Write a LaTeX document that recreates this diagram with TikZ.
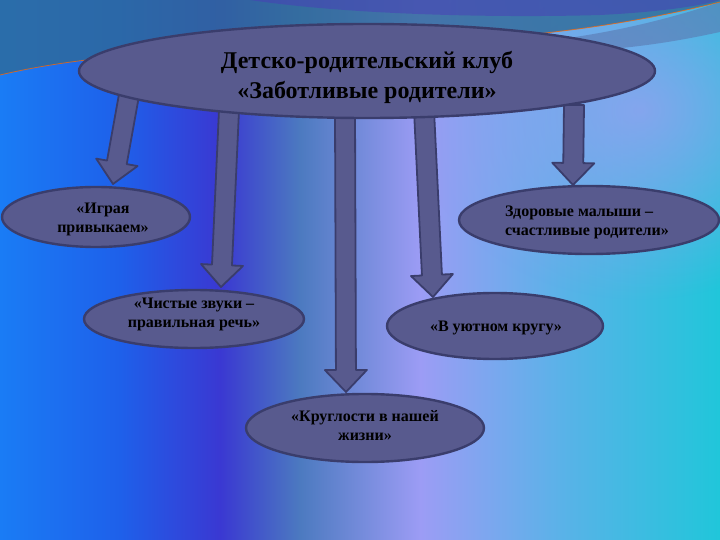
\documentclass[tikz,border=0pt]{standalone}
\usepackage{fontspec}
\setmainfont{Liberation Serif}
\usetikzlibrary{shapes.geometric,calc,fadings}
\definecolor{boxfill}{HTML}{585A8E}
\definecolor{boxline}{HTML}{3A3D6C}
\definecolor{bgA}{HTML}{1A7CF5}
\definecolor{bgB}{HTML}{1E60EA}
\definecolor{bgC}{HTML}{3A38D2}
\definecolor{bgD}{HTML}{4C7AC0}
\definecolor{bgE}{HTML}{9C9CF5}
\definecolor{bgF}{HTML}{5AB2E8}
\definecolor{bgG}{HTML}{20C6DA}
\definecolor{topcol}{HTML}{2F6A98}
\definecolor{swoosh}{HTML}{4A3CB8}
\definecolor{lav}{HTML}{9C9EF2}
\definecolor{grayband}{HTML}{5A78B0}
\tikzfading[name=radfade, inner color=transparent!0, outer color=transparent!100]
\tikzset{
  box/.style={ellipse, draw=boxline, line width=2.4bp, fill=boxfill, inner sep=0pt},
  blockarr/.style={draw=boxline, line width=1.8bp, fill=boxfill, line join=round},
  lbl/.style={font=\bfseries\fontsize{16bp}{19bp}\selectfont, text=black, align=center, inner sep=0pt},
  mainlbl/.style={font=\bfseries\fontsize{24bp}{30bp}\selectfont, text=black, align=center, inner sep=0pt}
}
\newcommand{\blkarrow}[2]{%
  \path (#1) coordinate (tmpA) (#2) coordinate (tmpB);
  \path ($(tmpB)!22bp!(tmpA)$) coordinate (tmpH);
  \filldraw[blockarr] ($(tmpA)!10bp!90:(tmpB)$) -- ($(tmpH)!10bp!90:(tmpB)$) -- ($(tmpH)!21bp!90:(tmpB)$) -- (tmpB) -- ($(tmpH)!21bp!-90:(tmpB)$) -- ($(tmpH)!10bp!-90:(tmpB)$) -- ($(tmpA)!10bp!-90:(tmpB)$) -- cycle;}
\begin{document}
\begin{tikzpicture}[x=1bp,y=-1bp]
\useasboundingbox (0,0) rectangle (720,540);
% background
\shade[left color=bgA, right color=bgB] (0,0) rectangle (120.5,540);
\shade[left color=bgB, right color=bgC] (120,0) rectangle (220.5,540);
\shade[left color=bgC, right color=bgD] (220,0) rectangle (300.5,540);
\shade[left color=bgD, right color=bgE] (300,0) rectangle (420.5,540);
\shade[left color=bgE, right color=bgF] (420,0) rectangle (560.5,540);
\shade[left color=bgF, right color=bgG] (560,0) rectangle (720,540);
\fill[lav, fill opacity=0.75, path fading=radfade] (640,110) ellipse (230 and 190);
\fill[grayband, fill opacity=0.6] (480,46) .. controls (580,42) and (660,22) .. (720,2) -- (720,32) .. controls (660,45) and (600,54) .. (480,54) -- cycle;
\fill[topcol, fill opacity=0.8] (0,0) -- (0,75) .. controls (200,28) and (450,70) .. (720,2) -- (720,0) -- cycle;
\fill[swoosh, fill opacity=0.5] (250,0) .. controls (350,15) and (500,18) .. (600,15) .. controls (660,12) and (700,6) .. (720,0) -- cycle;
\draw[orange!80!red, opacity=0.75, line width=0.8bp] (0,75) .. controls (200,28) and (450,70) .. (720,2);
% connector end points
\coordinate (s1) at (129,95);  \coordinate (e1) at (113,184);
\coordinate (s2) at (229,110); \coordinate (e2) at (221,287);
\coordinate (s3) at (345,112); \coordinate (e3) at (346,392);
\coordinate (s4) at (424,110); \coordinate (e4) at (433,297);
\coordinate (s5) at (574,105); \coordinate (e5) at (573,185);
\blkarrow{s1}{e1}
\blkarrow{s2}{e2}
\blkarrow{s3}{e3}
\blkarrow{s4}{e4}
\blkarrow{s5}{e5}
% nodes
\node[box, minimum width=576bp, minimum height=94bp] (main) at (367,71) {};
\node[mainlbl] (mainT) at (367,77) {Детско-родительский клуб\\«Заботливые родители»};
\node[box, minimum width=188bp, minimum height=60bp] (n1) at (96,217) {};
\node[lbl] (n1T) at (103,219) {«Играя\\привыкаем»};
\node[box, minimum width=220bp, minimum height=58bp] (n2) at (194,319) {};
\node[lbl] (n2T) at (194,314) {«Чистые звуки –\\правильная речь»};
\node[box, minimum width=238bp, minimum height=68bp] (n3) at (365,428) {};
\node[lbl] (n3T) at (365,426) {«Круглости в нашей\\жизни»};
\node[box, minimum width=216bp, minimum height=66bp] (n4) at (495,326) {};
\node[lbl] (n4T) at (496,328) {«В уютном кругу»};
\node[box, minimum width=260bp, minimum height=68bp] (n5) at (589,220) {};
\node[lbl, align=left] (n5T) at (587,222) {Здоровые малыши –\\счастливые родители»};
\end{tikzpicture}
\end{document}
